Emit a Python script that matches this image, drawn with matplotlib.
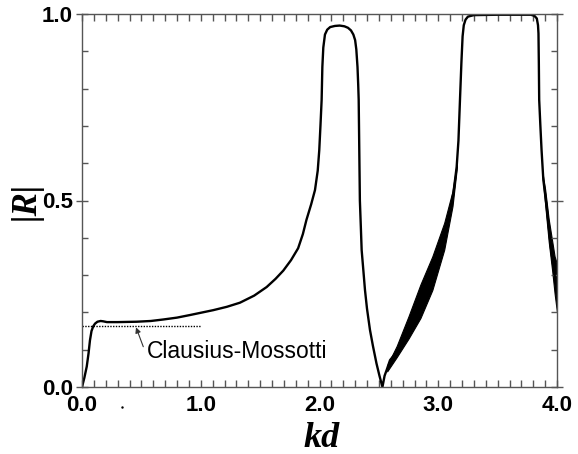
import matplotlib
matplotlib.use("Agg")
import matplotlib.pyplot as plt
from matplotlib import font_manager
import numpy as np

# ---- data ----
kd = [0.0, 0.02, 0.04, 0.055, 0.067, 0.08, 0.095, 0.11, 0.13, 0.157, 0.18, 0.21,
      0.30, 0.46, 0.58, 0.685, 0.80, 0.91, 1.0, 1.105, 1.22, 1.33, 1.45, 1.555,
      1.63, 1.695, 1.76, 1.82, 1.86, 1.89, 1.93, 1.962, 1.985, 1.998, 2.008,
      2.018, 2.024, 2.032, 2.046, 2.065, 2.09, 2.13, 2.17, 2.21, 2.24, 2.265,
      2.285, 2.30, 2.31, 2.32, 2.326, 2.33, 2.335, 2.34, 2.348, 2.355, 2.37,
      2.383, 2.40, 2.425, 2.45, 2.48, 2.505, 2.53, 2.548, 2.566, 2.594, 2.64,
      2.68, 2.74, 2.79, 2.85, 2.905, 2.97, 3.04, 3.07, 3.10, 3.127, 3.155,
      3.17, 3.183, 3.195, 3.205, 3.215, 3.23, 3.25, 3.30, 3.50, 3.78, 3.81,
      3.83, 3.84, 3.844, 3.847, 3.85, 3.86, 3.87, 3.885, 3.913, 3.95, 3.98, 4.0]
R = [0.0, 0.025, 0.055, 0.09, 0.125, 0.15, 0.163, 0.17, 0.175, 0.177, 0.176, 0.174,
     0.174, 0.175, 0.177, 0.181, 0.186, 0.193, 0.199, 0.206, 0.215, 0.226, 0.245, 0.268,
     0.29, 0.312, 0.34, 0.372, 0.41, 0.448, 0.49, 0.528, 0.58, 0.635, 0.70,
     0.77, 0.858, 0.91, 0.945, 0.958, 0.965, 0.968, 0.969, 0.967, 0.963, 0.956,
     0.945, 0.93, 0.905, 0.858, 0.81, 0.77, 0.635, 0.50, 0.43, 0.367, 0.31,
     0.26, 0.21, 0.153, 0.11, 0.063, 0.03, 0.0, 0.03, 0.046, 0.072, 0.09,
     0.108, 0.155, 0.198, 0.232, 0.269, 0.32, 0.385, 0.425, 0.47, 0.519, 0.59,
     0.66, 0.77, 0.87, 0.94, 0.97, 0.985, 0.993, 0.997, 0.998, 0.998, 0.995,
     0.988, 0.97, 0.948, 0.87, 0.77, 0.70, 0.635, 0.555, 0.483, 0.37, 0.30, 0.26]

# thick oscillation bands (lower / upper envelopes)
band1_kd = [2.57, 2.65, 2.75, 2.85, 2.95, 3.05, 3.12, 3.155]
band1_lo = [0.042, 0.080, 0.130, 0.185, 0.260, 0.368, 0.485, 0.583]
band1_hi = [0.058, 0.110, 0.190, 0.275, 0.350, 0.440, 0.525, 0.597]

band2_kd = [3.88, 3.90, 3.93, 3.96, 3.98, 4.0]
band2_lo = [0.56, 0.49, 0.39, 0.31, 0.25, 0.20]
band2_hi = [0.57, 0.53, 0.45, 0.39, 0.35, 0.33]

cm_value = 0.1635
cm_range = [0.0, 1.0]

xticks = [0.0, 1.0, 2.0, 3.0, 4.0]
xticklabels = ["0.0", "1.0", "2.0", "3.0", "4.0"]
yticks = [0.0, 0.5, 1.0]
yticklabels = ["0.0", "0.5", "1.0"]

# ---- figure ----
names = {f.name for f in font_manager.fontManager.ttflist}
tick_family = "Liberation Sans Narrow" if "Liberation Sans Narrow" in names else "Liberation Sans"
tick_size = 17 if tick_family == "Liberation Sans Narrow" else 16

W, H = 578, 454
fig = plt.figure(figsize=(W / 100, H / 100), dpi=100)
ax = fig.add_axes([82 / W, 1 - 387 / H, (557 - 82) / W, (387 - 14) / H])

ax.plot(kd, R, color="black", lw=1.7, solid_joinstyle="round")
ax.fill_between(band1_kd, band1_lo, band1_hi, color="black", lw=0.8)
ax.fill_between(band2_kd, band2_lo, band2_hi, color="black", lw=0.8)
ax.plot(cm_range, [cm_value, cm_value], color="black", lw=1.0, ls=(0, (1, 1)))

ax.set_xlim(0, 4.0)
ax.set_ylim(0, 1.0)

spine_c = "#555555"
for s in ax.spines.values():
    s.set_color(spine_c)
    s.set_linewidth(1.0)

tick_font = dict(family=tick_family, weight="bold", size=tick_size)
ax.set_xticks(xticks)
ax.set_xticklabels(xticklabels, **tick_font)
ax.set_yticks(yticks)
ax.set_yticklabels(yticklabels, **tick_font)
ax.set_xticks(np.arange(0, 4.01, 0.1), minor=True)
ax.set_yticks(np.arange(0, 1.01, 0.1), minor=True)

ax.tick_params(axis="x", which="both", direction="in", top=True, bottom=True,
               length=5, width=1, color=spine_c, pad=6)
ax.tick_params(axis="y", which="major", direction="inout", left=True, right=True,
               length=9, width=1, color=spine_c, pad=2)
ax.tick_params(axis="y", which="minor", direction="in", left=True, right=True,
               length=4.5, width=1, color=spine_c)

ax.set_xlabel("kd", family="Liberation Serif", weight="bold", style="italic", size=26)
ax.xaxis.set_label_coords(0.505, -0.095)
ax.set_ylabel("|R|", family="Liberation Serif", weight="bold", style="italic", size=25)
ax.yaxis.set_label_coords(-0.082, 0.5)

ax.annotate("", xy=(0.455, 0.160), xytext=(0.516, 0.108),
            arrowprops=dict(arrowstyle="-|>", color="#333333", lw=0.8,
                            mutation_scale=8, shrinkA=0, shrinkB=0))
ax.text(0.547, 0.094, "Clausius-Mossotti", family="Liberation Sans", size=16.5,
        va="center", ha="left")

ax.plot([0.337], [-0.054], marker=".", ms=1.5, color="black", clip_on=False)

fig.savefig("out.png", dpi=100)
